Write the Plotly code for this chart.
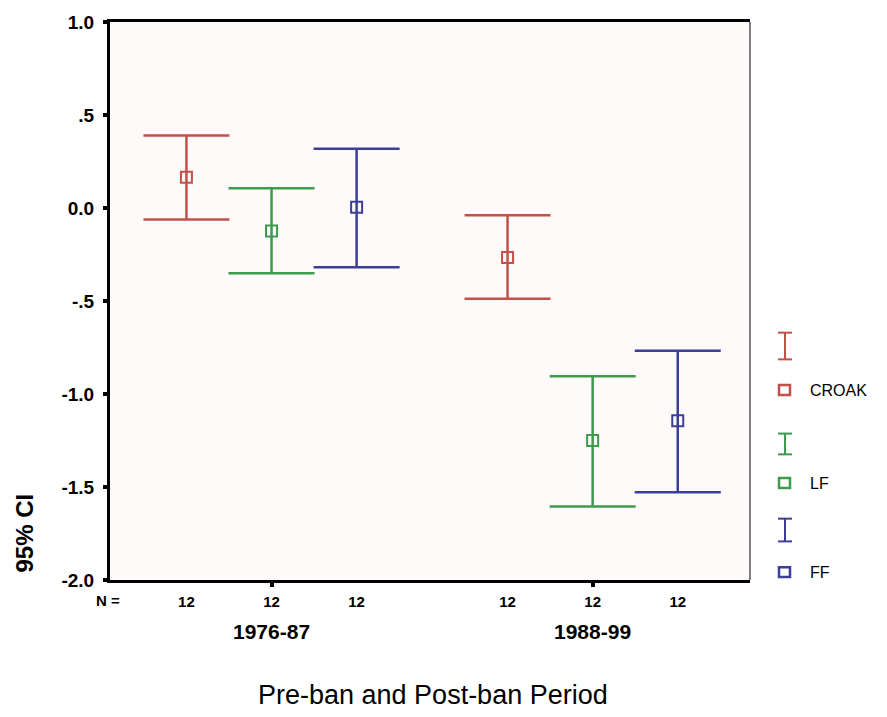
import plotly.graph_objects as go

# ---- data ----
periods = ["1976-87", "1988-99"]
series = ["CROAK", "LF", "FF"]
n_counts = [[12, 12, 12], [12, 12, 12]]
means = {
    "CROAK": [0.165, -0.266],
    "LF": [-0.124, -1.25],
    "FF": [0.004, -1.144],
}
upper = {
    "CROAK": [0.39, -0.039],
    "LF": [0.106, -0.904],
    "FF": [0.319, -0.768],
}
lower = {
    "CROAK": [-0.062, -0.488],
    "LF": [-0.351, -1.605],
    "FF": [-0.319, -1.528],
}
colors = {"CROAK": "#c4504a", "LF": "#3e9a4c", "FF": "#3b3f98"}
offsets = {"CROAK": -0.265, "LF": 0.0, "FF": 0.265}

W, H = 887, 717
L, R, T, B = 110, 750, 16, 580
FONT = "Arial, Liberation Sans, sans-serif"


def px(x):
    return (x - L) / (R - L)


def py(y):
    return (B - y) / (B - T)


fig = go.Figure()
for s in series:
    xs = [i + offsets[s] for i in range(len(periods))]
    m = means[s]
    fig.add_trace(go.Scatter(
        x=xs, y=m, mode="markers", name=s, showlegend=False,
        marker=dict(symbol="square-open", size=11, color=colors[s],
                    line=dict(width=2, color=colors[s])),
        error_y=dict(type="data", symmetric=False,
                     array=[u - v for u, v in zip(upper[s], m)],
                     arrayminus=[v - l for v, l in zip(m, lower[s])],
                     color=colors[s], thickness=2.5, width=43),
    ))

tick_x, tick_t = [], []
for i in range(len(periods)):
    for j, s in enumerate(series):
        tick_x.append(i + offsets[s])
        tick_t.append(str(n_counts[i][j]))

fig.update_layout(
    width=W, height=H,
    margin=dict(l=L, r=W - R, t=T, b=H - B, pad=0),
    paper_bgcolor="white", plot_bgcolor="#fefaf9",
    font=dict(family=FONT, color="black"),
    xaxis=dict(range=[-0.503, 1.49], showgrid=False, zeroline=False,
               tickvals=tick_x, ticktext=tick_t, ticks="", ticklen=0,
               ticklabelstandoff=6,
               tickfont=dict(size=15, family=FONT, weight="bold"),
               showline=True, linecolor="black", linewidth=3, mirror=True,
               minor=dict(tickvals=[0, 1], ticks="outside", ticklen=4,
                          tickwidth=4, tickcolor="black")),
    yaxis=dict(range=[-2, 1], showgrid=False, zeroline=False,
               tickvals=[1.0, 0.5, 0.0, -0.5, -1.0, -1.5, -2.0],
               ticktext=["1.0", ".5", "0.0", "-.5", "-1.0", "-1.5", "-2.0"],
               ticks="outside", ticklen=4, tickwidth=4, tickcolor="black",
               ticklabelstandoff=5,
               tickfont=dict(size=19, family=FONT, weight="bold"),
               showline=True, linecolor="black", linewidth=3),
)

# right border (thin)
fig.add_shape(type="line", xref="paper", yref="paper", x0=1, x1=1, y0=0, y1=1,
              line=dict(color="#555555", width=1.5))

ann = []
ann.append(dict(text="N =", x=px(108), y=py(601), xref="paper", yref="paper",
                showarrow=False, font=dict(size=15, family=FONT, weight="bold"),
                xanchor="center", yanchor="middle"))
for i, p in enumerate(periods):
    ann.append(dict(text=p, x=i, y=py(632), xref="x", yref="paper",
                    showarrow=False, font=dict(size=21, family=FONT, weight="bold"),
                    xanchor="center", yanchor="middle"))
ann.append(dict(text="Pre-ban and Post-ban Period", x=px(433), y=py(696),
                xref="paper", yref="paper", showarrow=False,
                font=dict(size=27, family=FONT), xanchor="center", yanchor="middle"))
ann.append(dict(text="95% CI", x=px(24), y=py(533), xref="paper", yref="paper",
                showarrow=False, textangle=-90,
                font=dict(size=24, family=FONT, weight="bold"),
                xanchor="center", yanchor="middle"))

# custom legend
leg_y = {"CROAK": (330, 357, 388), "LF": (432, 453, 482), "FF": (518, 541, 572)}
for s in series:
    c = colors[s]
    y0, y1, ys = leg_y[s]
    for (xa, ya, xb, yb) in [(778, y0, 792, y0), (778, y1, 792, y1), (785, y0, 785, y1)]:
        fig.add_shape(type="line", xref="paper", yref="paper",
                      x0=px(xa), y0=py(ya), x1=px(xb), y1=py(yb),
                      line=dict(color=c, width=2))
    fig.add_shape(type="rect", xref="paper", yref="paper",
                  x0=px(779), x1=px(790), y0=py(ys - 5), y1=py(ys + 5),
                  line=dict(color=c, width=2.5), fillcolor="rgba(0,0,0,0)")
    ann.append(dict(text=s, x=px(808), y=py(ys), xref="paper", yref="paper",
                    showarrow=False, font=dict(size=16, family=FONT),
                    xanchor="left", yanchor="middle"))

fig.update_layout(annotations=ann)
fig.write_html("out.html")
